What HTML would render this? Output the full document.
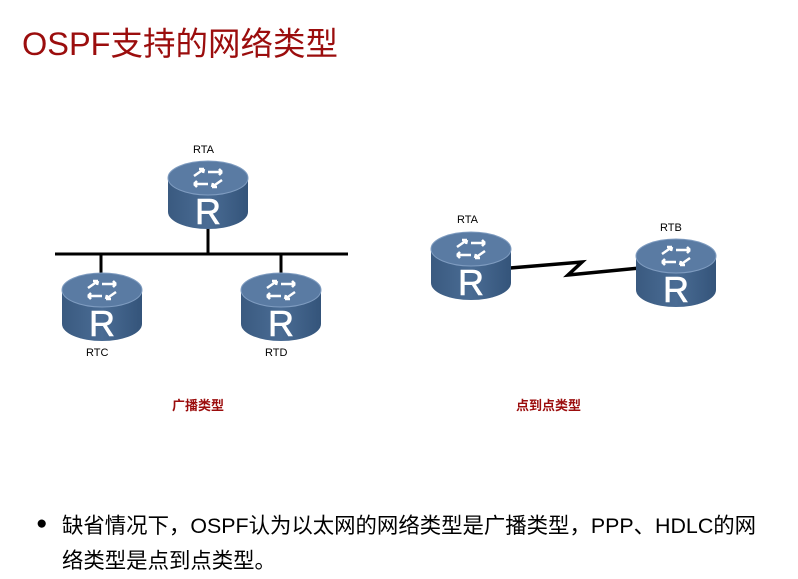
<!DOCTYPE html>
<html><head><meta charset="utf-8"><style>
body{margin:0;width:798px;height:579px;background:#fff;overflow:hidden;font-family:"Liberation Sans","Noto Sans CJK SC",sans-serif;position:relative}
.t{position:absolute;white-space:nowrap}
</style></head><body>
<div class="t" style="left:22px;top:18px;font-size:32.5px;color:#9b0d0d">OSPF支持的网络类型</div>
<svg width="798" height="579" style="position:absolute;left:0;top:0">
<defs>
<linearGradient id="b" x1="0" x2="1"><stop offset="0" stop-color="#3a5a80"/><stop offset=".5" stop-color="#4a6c94"/><stop offset="1" stop-color="#34547a"/></linearGradient>
<g id="r">
<path d="M0 18 V52 A40 17 0 0 0 80 52 V18 Z" fill="url(#b)"/>
<ellipse cx="40" cy="18" rx="40" ry="17" fill="#5a7ba3" stroke="#7f9cc0" stroke-width="1"/>
<g stroke="#fff" stroke-width="2.5" fill="none">
<path d="M26 16 L36 9 M36 9 l-5 0 M36 9 l-1 4"/>
<path d="M54 20 L44 27 M44 27 l5 0 M44 27 l1 -4"/>
<path d="M40 12 L54 12 M54 12 l-3 -3 M54 12 l-3 3"/>
<path d="M40 24 L26 24 M26 24 l3 -3 M26 24 l3 3"/>
</g>
<text x="40" y="64" font-family="Liberation Sans,sans-serif" font-size="36" fill="#fff" stroke="#fff" stroke-width="0.6" text-anchor="middle">R</text>
</g>
</defs>
<g stroke="#000" stroke-width="3">
<line x1="55" y1="254" x2="348" y2="254"/>
<line x1="208" y1="222" x2="208" y2="254"/>
<line x1="101" y1="254" x2="101" y2="275"/>
<line x1="281" y1="254" x2="281" y2="275"/>
</g>
<use href="#r" x="168" y="160"/>
<use href="#r" x="62" y="272"/>
<use href="#r" x="241" y="272"/>
<polyline points="510,268 582,262 568,275 640,268" fill="none" stroke="#000" stroke-width="3.5"/>
<use href="#r" x="431" y="231"/>
<use href="#r" x="636" y="238"/>
</svg>
<div class="t" style="left:193px;top:144px;font-size:11px">RTA</div>
<div class="t" style="left:86px;top:347px;font-size:11px">RTC</div>
<div class="t" style="left:265px;top:347px;font-size:11px">RTD</div>
<div class="t" style="left:457px;top:214px;font-size:11px">RTA</div>
<div class="t" style="left:660px;top:222px;font-size:11px">RTB</div>
<div class="t" style="left:172px;top:395px;font-size:13px;font-weight:bold;color:#9b0d0d">广播类型</div>
<div class="t" style="left:516px;top:395px;font-size:13px;font-weight:bold;color:#9b0d0d">点到点类型</div>
<div class="t" style="left:36px;top:513px;font-size:19px">●</div>
<div class="t" style="left:62px;top:509px;font-size:21.4px;line-height:35px">缺省情况下，OSPF认为以太网的网络类型是广播类型，PPP、HDLC的网<br>络类型是点到点类型。</div>
</body></html>
